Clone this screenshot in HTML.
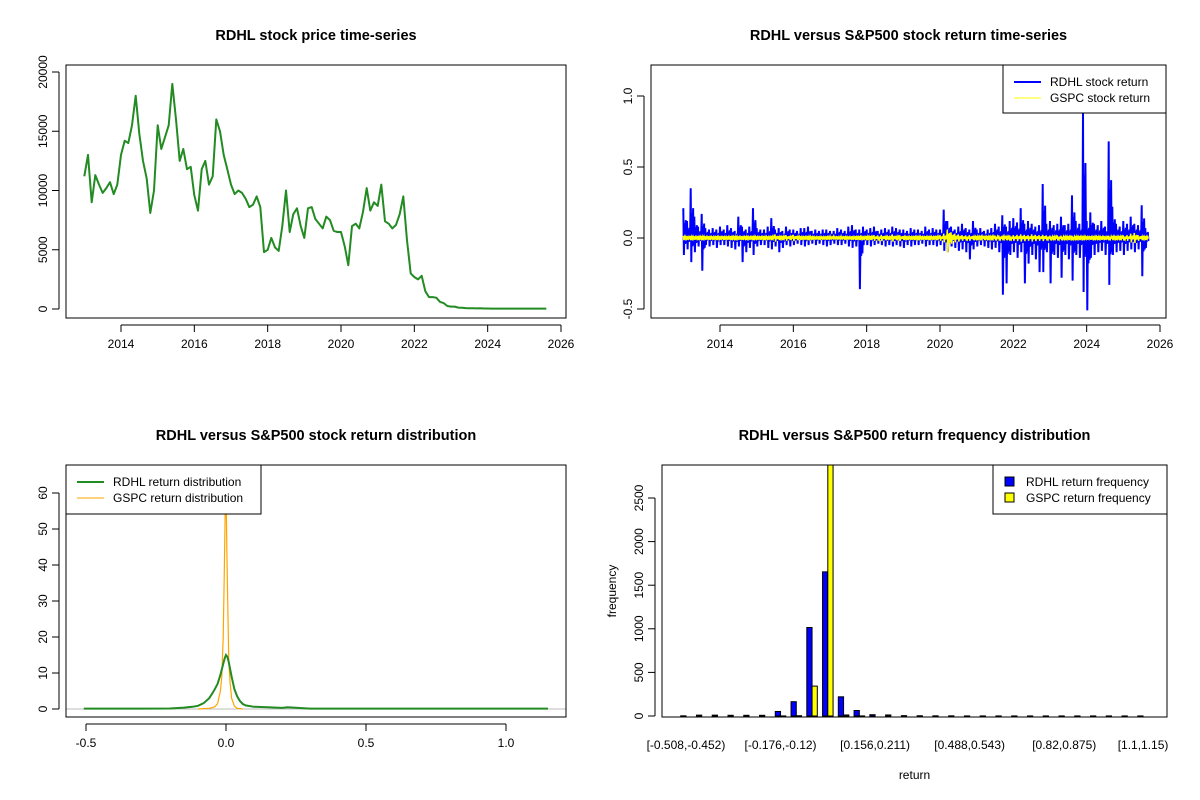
<!DOCTYPE html>
<html><head><meta charset="utf-8"><style>
html,body{margin:0;padding:0;background:#fff;}
svg{display:block;font-family:"Liberation Sans",Arial,sans-serif;}
</style></head><body>
<svg id="fig" width="1200" height="800" viewBox="0 0 1200 800"></svg>
<script>
// ---------- data ----------
const priceStart = 2013.0, priceStep = 0.1;
const priceValues = [11200,13000,9000,11300,10500,9800,10200,10700,9700,10500,
13000,14200,14000,15500,18000,14800,12500,11000,8100,10000,
15500,13500,14500,15500,19000,16000,12500,13500,11800,12000,
9600,8300,11800,12500,10500,11200,16000,15000,13000,11800,
10500,9700,10000,9800,9300,8600,8800,9500,8600,4800,
5000,6000,5200,4900,7000,10000,6500,8000,8500,7000,
6000,8500,8600,7600,7200,6800,7800,7500,6600,6500,
6500,5300,3700,7000,7200,6800,8200,10200,8300,9000,
8700,10500,7400,7200,6800,7100,8000,9500,5800,3000,
2700,2500,2800,1500,1000,1000,950,600,500,250,
200,200,120,100,80,60,60,50,60,40,
40,30,30,30,30,30,30,30,30,30,
30,30,30,30,30,30,30];
const priceYTicks = [0,5000,10000,15000,20000];
const yearTicks = [2014,2016,2018,2020,2022,2024,2026];

const retStart = 2013.0, retStep = 0.1;
const rdhlHi = [.21,.12,.35,.15,.08,.17,.07,.06,.07,.06,
.08,.06,.09,.07,.05,.15,.08,.06,.08,.21,
.07,.06,.06,.08,.14,.06,.07,.05,.08,.06,
.06,.05,.07,.07,.08,.05,.06,.05,.06,.06,
.05,.05,.07,.06,.05,.08,.09,.06,.06,.08,
.06,.07,.08,.05,.06,.07,.06,.08,.07,.06,
.06,.05,.07,.06,.06,.05,.08,.06,.07,.06,
.06,.20,.12,.08,.06,.08,.10,.07,.06,.12,
.06,.07,.05,.06,.07,.10,.08,.16,.08,.12,
.14,.11,.21,.10,.12,.10,.08,.09,.38,.10,
.12,.09,.10,.15,.09,.10,.30,.12,.10,.88,
.12,.18,.10,.09,.12,.08,.68,.22,.10,.08,
.12,.10,.15,.10,.09,.23,.07];
const rdhlLo = [-.12,-.08,-.17,-.10,-.06,-.23,-.05,-.06,-.05,-.07,
-.05,-.05,-.06,-.07,-.08,-.06,-.17,-.10,-.07,-.12,
-.06,-.05,-.05,-.07,-.08,-.06,-.10,-.07,-.05,-.06,
-.05,-.04,-.05,-.06,-.05,-.04,-.05,-.04,-.05,-.06,
-.05,-.04,-.05,-.05,-.04,-.06,-.07,-.06,-.36,-.05,
-.05,-.06,-.05,-.04,-.05,-.06,-.05,-.06,-.05,-.06,
-.07,-.05,-.06,-.05,-.05,-.04,-.06,-.05,-.05,-.06,
-.05,-.09,-.10,-.06,-.07,-.09,-.08,-.10,-.15,-.08,
-.06,-.05,-.06,-.07,-.08,-.07,-.10,-.40,-.32,-.12,
-.10,-.14,-.10,-.32,-.18,-.12,-.15,-.24,-.24,-.10,
-.32,-.12,-.14,-.28,-.12,-.15,-.30,-.12,-.14,-.38,
-.51,-.14,-.12,-.10,-.09,-.12,-.33,-.12,-.10,-.09,
-.12,-.09,-.08,-.10,-.08,-.27,-.07];
const gspcHi = [.015,.012,.015,.012,.014,.015,.012,.013,.012,.014,
.012,.013,.012,.014,.015,.012,.013,.014,.012,.015,
.012,.013,.014,.012,.015,.025,.014,.015,.02,.014,
.022,.015,.013,.012,.015,.012,.011,.012,.011,.012,
.01,.01,.011,.01,.012,.011,.012,.013,.014,.012,
.015,.014,.02,.018,.022,.015,.012,.025,.015,.02,
.014,.013,.012,.014,.015,.012,.013,.014,.012,.015,
.02,.03,.06,.04,.03,.025,.02,.018,.02,.015,
.015,.016,.014,.015,.016,.017,.018,.016,.015,.018,
.02,.022,.025,.022,.02,.025,.022,.02,.022,.018,
.016,.015,.018,.016,.015,.014,.016,.015,.014,.015,
.012,.013,.015,.014,.013,.012,.016,.015,.014,.015,
.018,.02,.03,.035,.02,.015,.014];
const gspcLo = gspcHi.map((v,i)=>-v*(i===72?1.7:1));
const retYTicks = [-0.5,0,0.5,1.0];
const retYLabels = ["-0.5","0.0","0.5","1.0"];

const rdhlDensX = [-0.508,-0.3,-0.2,-0.15,-0.12,-0.1,-0.08,-0.06,-0.05,-0.04,-0.03,-0.02,-0.01,-0.005,0,0.005,0.01,0.015,0.02,0.03,0.04,0.05,0.06,0.07,0.1,0.15,0.2,0.22,0.3,0.5,1.0,1.15];
const rdhlDensY = [0.1,0.1,0.15,0.4,0.6,0.9,1.6,3.0,4.2,5.5,7.0,9.5,12.5,14,15,14.5,13,11,9,5.5,3.5,2.2,1.4,1.0,0.6,0.5,0.3,0.5,0.1,0.1,0.1,0.1];
const gspcDensX = [-0.1,-0.06,-0.04,-0.03,-0.02,-0.015,-0.01,-0.006,-0.003,0,0.003,0.006,0.01,0.015,0.02,0.03,0.04,0.06];
const gspcDensY = [0,0.2,0.6,1.5,5,9,20,38,55,62,45,30,13,7,3,0.8,0.2,0];
const densXTicks = [-0.5,0,0.5,1.0];
const densXLabels = ["-0.5","0.0","0.5","1.0"];
const densYTicks = [0,10,20,30,40,50,60];

const histBins = 30;
const histRdhl = [2,10,10,8,8,8,52,164,1015,1653,220,63,15,12,4,3,2,2,1,1,1,1,1,1,1,1,1,1,1,1];
const histGspc = [0,0,0,0,0,0,1,3,343,3050,12,1,0,0,0,0,0,0,0,0,0,0,0,0,0,0,0,0,0,0];
const histLabelBins = [0,6,12,18,24,29];
const histLabels = ["[-0.508,-0.452)","[-0.176,-0.12)","[0.156,0.211)","[0.488,0.543)","[0.82,0.875)","[1.1,1.15)"];
const histYTicks = [0,500,1000,1500,2000,2500];

// ---------- helpers ----------
const NS="http://www.w3.org/2000/svg";
const svg=document.getElementById('fig');
function el(tag,attrs,parent){const e=document.createElementNS(NS,tag);for(const k in attrs)e.setAttribute(k,attrs[k]);(parent||svg).appendChild(e);return e;}
function txt(s,x,y,size,parent,extra){const t=el('text',Object.assign({x:x,y:y,'font-size':size,'text-anchor':'middle',fill:'#000'},extra||{}),parent);t.textContent=s;return t;}
function lin(d0,d1,p0,p1){return v=>p0+(v-d0)/(d1-d0)*(p1-p0);}

function panel(name,box,title,titleY){
  const g=el('g',{});
  
  
  const t=txt(title,(box.x0+box.x1)/2,titleY,'14.5px',g,{'font-weight':'bold'});
  
  
  return g;
}
function frame(g,box){
  const r=el('rect',{x:box.x0,y:box.y0,width:box.x1-box.x0,height:box.y1-box.y0,fill:'none',stroke:'#000','stroke-width':1},g);
  
  
}
function yAxis(g,box,ticks,labels,ys){
  const ax=el('g',{},g);
  
  
  const y0=ys(ticks[0]),y1=ys(ticks[ticks.length-1]);
  el('line',{x1:box.x0-7,x2:box.x0-7,y1:y0,y2:y1,stroke:'#000'},ax);
  ticks.forEach((v,i)=>{const y=ys(v);
    el('line',{x1:box.x0-7,x2:box.x0-14,y1:y,y2:y,stroke:'#000'},ax);
    const t=txt(labels[i],0,0,'12px',ax,{transform:`translate(${box.x0-19},${y}) rotate(-90)`});
    
    
  });
}
function xAxis(g,box,ticks,labels,xs,y){
  const ax=el('g',{},g);
  
  
  el('line',{x1:xs(ticks[0]),x2:xs(ticks[ticks.length-1]),y1:y,y2:y,stroke:'#000'},ax);
  ticks.forEach((v,i)=>{const x=xs(v);
    el('line',{x1:x,x2:x,y1:y,y2:y+7,stroke:'#000'},ax);
    const t=txt(labels[i],x,y+23,'12px',ax);
    
    
  });
}

// ---------- panel 1: price ----------
(function(){
  const box={x0:66,x1:566,y0:65,y1:318};
  const g=panel('price-chart',box,'RDHL stock price time-series',40);
  const xs=lin(2014,2026,121,561), ys=lin(0,20000,309,72);
  let d='';
  priceValues.forEach((v,i)=>{d+=(i?'L':'M')+xs(priceStart+i*priceStep).toFixed(1)+','+ys(v).toFixed(1);});
  const p=el('path',{d:d,fill:'none',stroke:'#228B22','stroke-width':2,'stroke-linejoin':'round'},g);
  
  
  frame(g,box);
  yAxis(g,box,priceYTicks,priceYTicks.map(String),ys);
  xAxis(g,box,yearTicks,yearTicks.map(String),xs,box.y1+7);
})();

// ---------- panel 2: returns ----------
(function(){
  const box={x0:651,x1:1166,y0:65,y1:318};
  const g=panel('return-chart',box,'RDHL versus S&P500 stock return time-series',40);
  const xs=lin(2014,2026,720,1160), ys=lin(0,1,238,96);
  function zig(hi,lo,color,w,name){
    let d='';
    const fr=[0.5,0.35,0.6,0.3];
    hi.forEach((v,i)=>{const x0=xs(retStart+i*retStep),dx=(xs(retStart+(i+1)*retStep)-x0)/6;
      d+=(i?'L':'M')+x0.toFixed(1)+','+ys(v).toFixed(1)+'L'+(x0+dx).toFixed(1)+','+ys(lo[i]).toFixed(1);
      fr.forEach((f,j)=>{d+='L'+(x0+dx*(2+j)).toFixed(1)+','+ys(j%2?lo[i]*f:v*f).toFixed(1);});
    });
    const p=el('path',{d:d,fill:'none',stroke:color,'stroke-width':w},g);
    
    
  }
  zig(rdhlHi,rdhlLo,'#0000FF',2,'rdhl-return-line');
  zig(gspcHi,gspcLo,'#FFFF00',1.5,'gspc-return-line');
  frame(g,box);
  yAxis(g,box,retYTicks,retYLabels,ys);
  xAxis(g,box,yearTicks,yearTicks.map(String),xs,box.y1+7);
  const lg=el('g',{},g);
  
  
  el('rect',{x:1003,y:65,width:163,height:48,fill:'#fff',stroke:'#000'},lg);
  el('line',{x1:1014,x2:1041,y1:82,y2:82,stroke:'#0000FF','stroke-width':2},lg);
  el('line',{x1:1014,x2:1041,y1:98,y2:98,stroke:'#FFFF00','stroke-width':1},lg);
  const a=txt('RDHL stock return',1050,86,'12px',lg,{'text-anchor':'start'});
  
  
  const b=txt('GSPC stock return',1050,102,'12px',lg,{'text-anchor':'start'});
  
  
})();

// ---------- panel 3: density ----------
(function(){
  const box={x0:66,x1:566,y0:465,y1:717};
  const g=panel('density-chart',box,'RDHL versus S&P500 stock return distribution',440);
  const xs=lin(0,1,226,506), ys=lin(0,10,709,673);
  el('line',{x1:box.x0,x2:box.x1,y1:ys(0),y2:ys(0),stroke:'#bbb'},g);
  function line(X,Y,color,w,name){
    let d='';X.forEach((x,i)=>{d+=(i?'L':'M')+xs(x).toFixed(1)+','+ys(Y[i]).toFixed(1);});
    const p=el('path',{d:d,fill:'none',stroke:color,'stroke-width':w},g);
    
    
  }
  line(gspcDensX,gspcDensY,'#FFA500',1.2,'gspc-density-line');
  line(rdhlDensX,rdhlDensY,'#228B22',2,'rdhl-density-line');
  frame(g,box);
  yAxis(g,box,densYTicks,densYTicks.map(String),ys);
  xAxis(g,box,densXTicks,densXLabels,xs,box.y1+7);
  const lg=el('g',{},g);
  
  
  el('rect',{x:66,y:465,width:195,height:49,fill:'#fff',stroke:'#000'},lg);
  el('line',{x1:77,x2:104,y1:482,y2:482,stroke:'#228B22','stroke-width':2},lg);
  el('line',{x1:77,x2:104,y1:498,y2:498,stroke:'#FFA500','stroke-width':1},lg);
  const a=txt('RDHL return distribution',113,486,'12px',lg,{'text-anchor':'start'});
  
  
  const b=txt('GSPC return distribution',113,502,'12px',lg,{'text-anchor':'start'});
  
  
})();

// ---------- panel 4: histogram ----------
(function(){
  const box={x0:662,x1:1167,y0:465,y1:717};
  const g=panel('histogram-chart',box,'RDHL versus S&P500 return frequency distribution',440);
  const units=histBins*3, pad=0.04*(units-1);
  const xs=lin(1-pad,units+pad,box.x0,box.x1), ys=lin(0,2500,716,498);
  const cg=el('g',{},g);
  const cp=el('clipPath',{id:'hclip'},cg);
  el('rect',{x:box.x0,y:box.y0,width:box.x1-box.x0,height:box.y1-box.y0},cp);
  const bars=el('g',{'clip-path':'url(#hclip)'},g);
  for(let i=0;i<histBins;i++){
    const u=i*3+1;
    const r1=el('rect',{x:xs(u),y:ys(histRdhl[i]),width:xs(u+1)-xs(u),height:ys(0)-ys(histRdhl[i]),fill:'#0000FF',stroke:'#000','stroke-width':1},bars);
    
    
    const r2=el('rect',{x:xs(u+1),y:ys(histGspc[i]),width:xs(u+2)-xs(u+1),height:ys(0)-ys(histGspc[i]),fill:'#FFFF00',stroke:'#000','stroke-width':1},bars);
    
    
  }
  frame(g,box);
  yAxis(g,box,histYTicks,histYTicks.map(String),ys);
  histLabelBins.forEach((b,i)=>{
    const t=txt(histLabels[i],xs(b*3+2),749,'12px',g);
    
    
  });
  const xl=txt('return',(box.x0+box.x1)/2,779,'12px',g);
  
  
  const yl=txt('frequency',0,0,'12px',g,{transform:'translate(616,591) rotate(-90)'});
  
  
  const lg=el('g',{},g);
  
  
  el('rect',{x:993,y:465,width:174,height:49,fill:'#fff',stroke:'#000'},lg);
  el('rect',{x:1005,y:477,width:9,height:9,fill:'#0000FF',stroke:'#000'},lg);
  el('rect',{x:1005,y:493,width:9,height:9,fill:'#FFFF00',stroke:'#000'},lg);
  const a=txt('RDHL return frequency',1026,486,'12px',lg,{'text-anchor':'start'});
  
  
  const b=txt('GSPC return frequency',1026,502,'12px',lg,{'text-anchor':'start'});
  
  
})();
</script>
</body></html>
